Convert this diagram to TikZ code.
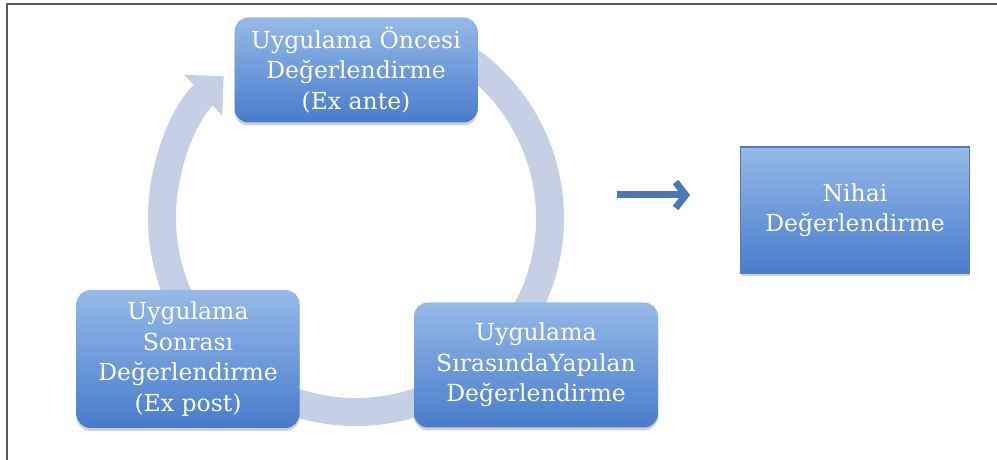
\documentclass[tikz,border=0pt]{standalone}
\usepackage{fontspec}
\usetikzlibrary{arrows.meta,shadows,calc}
\newfontfamily\dvs{DejaVu Serif}
\definecolor{boxtop}{RGB}{150,186,232}
\definecolor{boxbot}{RGB}{72,124,204}
\definecolor{ringcol}{RGB}{197,208,228}
\definecolor{arrcol}{RGB}{74,120,184}
\definecolor{framecol}{RGB}{90,90,90}
\definecolor{nihaiborder}{RGB}{80,125,190}
\tikzset{
  boxfont/.style={font={\dvs\fontsize{23.5}{30.5}\selectfont}},
  cyc/.style={rounded corners=14pt, top color=boxtop, bottom color=boxbot, draw=none,
    text=white, align=center, boxfont, inner sep=0pt,
    drop shadow={shadow xshift=0pt, shadow yshift=-3pt, opacity=0.18, fill=black}},
  finalbox/.style={top color=boxtop, bottom color=boxbot, draw=nihaiborder, line width=1.5pt,
    text=white, align=center, boxfont, inner sep=0pt,
    drop shadow={shadow xshift=0pt, shadow yshift=-3pt, opacity=0.18, fill=black}},
}
\begin{document}
\begin{tikzpicture}[x=1pt,y=1pt]
\useasboundingbox (0,0) rectangle (997,460);
\draw[framecol, line width=2pt] (997,456) -- (7,456) -- (7,0);
% ring
\coordinate (c) at (356,242);
\coordinate (ringstart) at ($(c)+(60:194)$);
\draw[ringcol, line width=28pt, -{Triangle[width=54pt 0, length=28pt 0]}]
  (ringstart) arc[start angle=60, end angle=-227, radius=194];
% boxes
\node[cyc, minimum width=243pt, minimum height=105pt] (ante) at (356,390)
  {Uygulama Öncesi\\Değerlendirme\\(Ex ante)};
\node[cyc, minimum width=223pt, minimum height=138pt] (post) at (188,101)
  {Uygulama\\Sonrası\\Değerlendirme\\(Ex post)};
\node[cyc, minimum width=244pt, minimum height=125pt] (during) at (536,95)
  {Uygulama\\SırasındaYapılan\\Değerlendirme};
\node[finalbox, minimum width=229pt, minimum height=126pt] (final) at (855,250)
  {Nihai\\Değerlendirme};
% blue arrow
\coordinate (as) at (617,265);
\coordinate (ae) at (690,265);
\draw[arrcol, line width=7pt, -{Straight Barb[length=10pt 0, width=26pt 0, line width=7pt]}] (as) -- (ae);
\end{tikzpicture}
\end{document}
